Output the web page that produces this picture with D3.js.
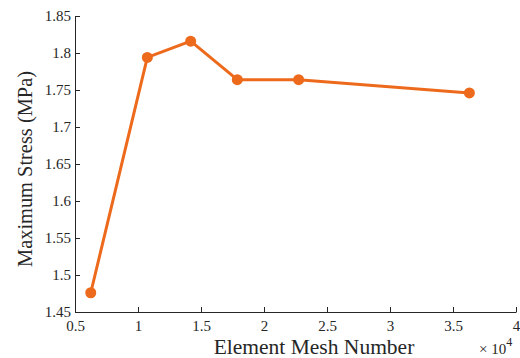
<!DOCTYPE html>
<html>
<head>
<meta charset="utf-8">
<script src="https://cdn.jsdelivr.net/npm/d3@7"></script>
<style>
  body { margin: 0; background: #fff; }
  svg { display: block; }
</style>
</head>
<body>
<svg id="chart" width="520" height="358"></svg>
<script>
// Mesh convergence: element count (×10^4) vs. maximum stress
const meshCounts = [0.625, 1.074, 1.418, 1.788, 2.275, 3.63];
const maxStress = [1.476, 1.794, 1.816, 1.764, 1.764, 1.746];
const xTicks = [0.5, 1, 1.5, 2, 2.5, 3, 3.5, 4];
const yTicks = [1.45, 1.5, 1.55, 1.6, 1.65, 1.7, 1.75, 1.8, 1.85];

const svg = d3.select("#chart");
const margin = { left: 75, right: 4, top: 16, bottom: 46 };
const W = 520, H = 358;
const color = "#ED6A1C";

const x = d3.scaleLinear().domain([0.5, 4]).range([margin.left, W - margin.right]);
const y = d3.scaleLinear().domain([1.45, 1.85]).range([H - margin.bottom, margin.top]);

const serif = "'Liberation Serif', 'Times New Roman', serif";

const xAxis = svg.append("g")
  .attr("transform", `translate(0,${y(1.45)})`)
  .call(d3.axisBottom(x).tickValues(xTicks).tickFormat(d3.format("")).tickSizeInner(-5).tickSizeOuter(0).tickPadding(8));
const yAxis = svg.append("g")
  .attr("transform", `translate(${x(0.5)},0)`)
  .call(d3.axisLeft(y).tickValues(yTicks).tickFormat(d3.format("")).tickSizeInner(-5).tickSizeOuter(0).tickPadding(4));

[xAxis, yAxis].forEach(g => {
  g.selectAll("path.domain").attr("stroke", "#262626").attr("stroke-width", 1);
  g.selectAll(".tick line").attr("stroke", "#262626").attr("stroke-width", 1);
  g.selectAll("text").attr("fill", "#262626").style("font-family", serif).style("font-size", "15px");
});
yAxis.selectAll(".tick line").attr("x2", 5);
xAxis.selectAll(".tick line").attr("y2", -5);

// Line and markers
const line = d3.line().x((d, i) => x(meshCounts[i])).y(d => y(d));
svg.append("path")
  .datum(maxStress)
  .attr("fill", "none")
  .attr("stroke", color)
  .attr("stroke-width", 3)
  .attr("stroke-linejoin", "round")
  .attr("d", line);

svg.selectAll("circle.pt")
  .data(maxStress)
  .enter().append("circle")
  .attr("class", "pt")
  .attr("cx", (d, i) => x(meshCounts[i]))
  .attr("cy", d => y(d))
  .attr("r", 5.5)
  .attr("fill", color);

// Axis labels
svg.append("text")
  .attr("x", 314).attr("y", 354)
  .attr("text-anchor", "middle")
  .style("font-family", serif)
  .style("font-size", "21.5px")
  .attr("fill", "#262626")
  .text("Element Mesh Number");

svg.append("text")
  .attr("transform", "translate(32,169) rotate(-90)")
  .attr("text-anchor", "middle")
  .style("font-family", serif)
  .style("font-size", "20.4px")
  .attr("fill", "#262626")
  .text("Maximum Stress (MPa)");

// Exponent marker for the x axis
const expo = svg.append("text")
  .attr("x", 479).attr("y", 354)
  .style("font-family", serif)
  .style("font-size", "15px")
  .attr("fill", "#262626");
expo.append("tspan").text("× 10");
expo.append("tspan").attr("dy", -8).style("font-size", "12px").text("4");
</script>
</body>
</html>
